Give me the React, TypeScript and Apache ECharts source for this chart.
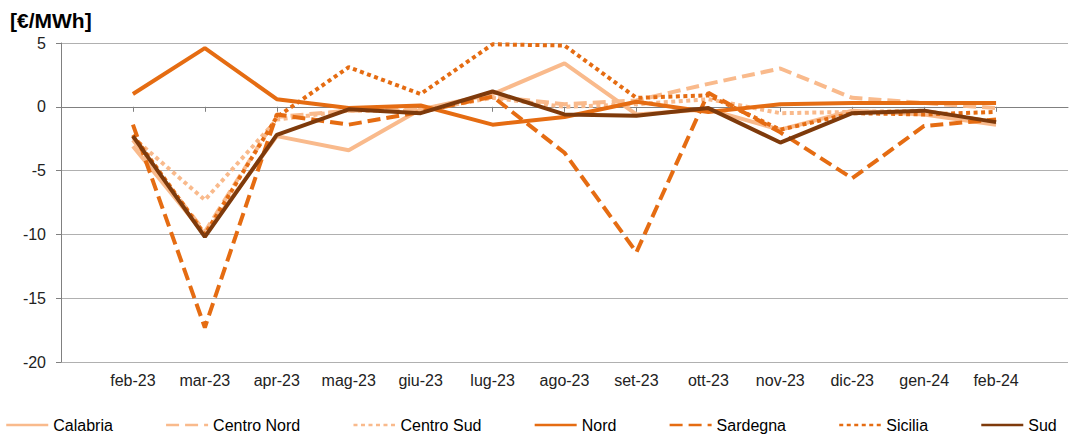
import React, { useEffect, useRef } from "react";
import * as echarts from "echarts";

const months = ["feb-23", "mar-23", "apr-23", "mag-23", "giu-23", "lug-23", "ago-23", "set-23", "ott-23", "nov-23", "dic-23", "gen-24", "feb-24"];
const categories = ["", ...months, ""];

const calabria = [-3.1, -10.0, -2.3, -3.4, -0.2, 1.0, 3.4, -0.6, -0.2, -1.8, -0.3, -0.6, -1.4];
const centroNord = [-2.6, -9.8, -0.8, -0.3, -0.2, 0.8, 0.2, 0.5, 1.8, 3.0, 0.7, 0.3, -0.1];
const centroSud = [-2.4, -7.3, -1.0, -0.3, -0.3, 0.7, 0.0, 0.2, 0.6, -0.5, -0.4, -0.3, -1.2];
const nord = [1.0, 4.6, 0.6, -0.1, 0.1, -1.4, -0.8, 0.4, -0.4, 0.2, 0.3, 0.3, 0.3];
const sardegna = [-1.4, -17.3, -0.6, -1.4, -0.4, 0.8, -3.6, -11.4, 1.1, -2.0, -5.6, -1.5, -1.0];
const sicilia = [-2.2, -10.0, -0.8, 3.1, 1.0, 4.9, 4.8, 0.7, 0.9, -1.8, -0.5, -0.6, -0.4];
const sud = [-2.3, -10.2, -2.2, -0.2, -0.5, 1.2, -0.6, -0.7, -0.1, -2.8, -0.5, -0.3, -1.2];

const yTicks = { min: -20, max: 5, interval: 5 };

const LIGHT = "#F9BA8C";
const ORANGE = "#E56C12";
const DARK = "#7E3A0B";

const pad = (arr: number[]) => [null, ...arr, null];

export default function App() {
  const ref = useRef<HTMLDivElement>(null);
  useEffect(() => {
    if (!ref.current) return;
    const chart = echarts.init(ref.current, undefined, { renderer: "svg" });
    const mk = (name: string, data: number[], color: string, type: any, width = 4) => ({
      name,
      type: "line",
      data: pad(data),
      symbol: "none",
      connectNulls: false,
      lineStyle: { color, width, type, cap: "butt" },
      itemStyle: { color },
    });
    chart.setOption({
      animation: false,
      textStyle: { fontFamily: "Liberation Sans, Arial, sans-serif" },
      title: {
        text: "[€/MWh]",
        left: 10,
        top: 10,
        padding: 0,
        textStyle: { fontSize: 21, fontWeight: "bold", color: "#000", fontFamily: "Liberation Sans, Arial, sans-serif" },
      },
      grid: { left: 61, right: -4, top: 43, bottom: 75, containLabel: false },
      legend: {
        bottom: 4,
        left: 5,
        padding: 0,
        itemWidth: 42,
        itemHeight: 14,
        itemGap: 52,
        itemStyle: { opacity: 0 },
        lineStyle: { width: 2.5 },
        textStyle: { fontSize: 16, color: "#000", fontFamily: "Liberation Sans, Arial, sans-serif" },
        data: ["Calabria", "Centro Nord", "Centro Sud", "Nord", "Sardegna", "Sicilia", "Sud"],
      },
      xAxis: {
        type: "category",
        data: categories,
        boundaryGap: false,
        axisLine: { lineStyle: { color: "#808080", width: 1 } },
        axisTick: { show: true, length: 5, lineStyle: { color: "#808080" }, interval: (i: number, v: string) => v !== "" },
        axisLabel: { interval: 0, fontSize: 16, color: "#222", margin: 10 },
        splitLine: { show: false },
      },
      yAxis: {
        type: "value",
        min: yTicks.min,
        max: yTicks.max,
        interval: yTicks.interval,
        axisLine: { show: true, lineStyle: { color: "#808080", width: 1 } },
        axisTick: { show: true, length: 5, lineStyle: { color: "#808080" } },
        axisLabel: { fontSize: 16, color: "#222", margin: 15 },
        splitLine: { show: true, lineStyle: { color: "#B0B0B0", width: 1 } },
      },
      series: [
        mk("Calabria", calabria, LIGHT, "solid"),
        mk("Centro Nord", centroNord, LIGHT, [13, 6]),
        mk("Centro Sud", centroSud, LIGHT, [4, 3.5]),
        mk("Nord", nord, ORANGE, "solid"),
        mk("Sardegna", sardegna, ORANGE, [13, 6]),
        mk("Sicilia", sicilia, ORANGE, [4, 3.5]),
        mk("Sud", sud, DARK, "solid"),
      ],
    });
    return () => chart.dispose();
  }, []);
  return <div ref={ref} style={{ width: 1071, height: 437, position: "absolute", left: 0, top: 0, background: "#fff" }} />;
}
